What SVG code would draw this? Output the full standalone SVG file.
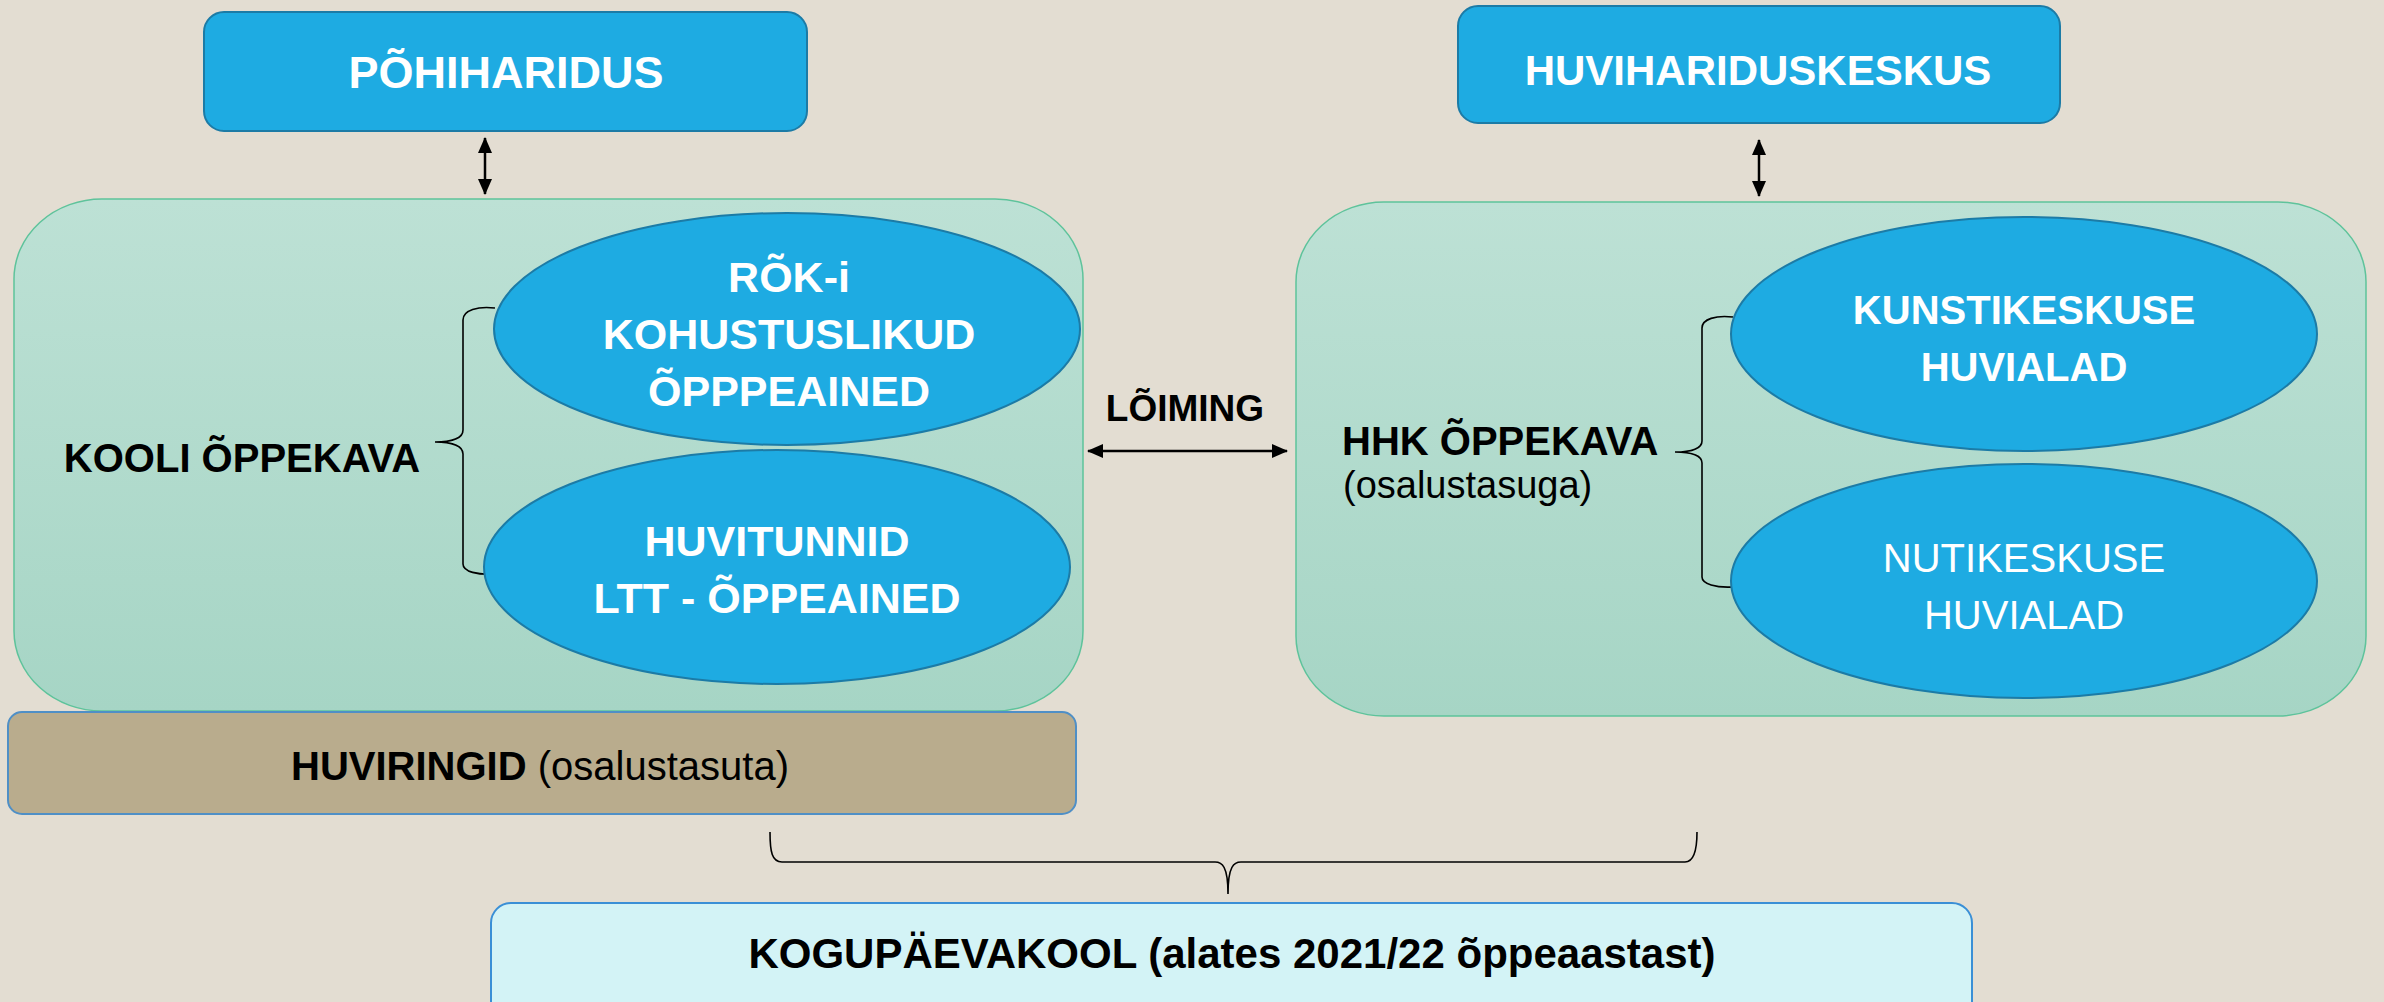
<svg xmlns="http://www.w3.org/2000/svg" width="2384" height="1002" viewBox="0 0 2384 1002">
<defs>
<linearGradient id="gGreen" x1="0" y1="0" x2="0" y2="1">
<stop offset="0" stop-color="#BDE1D5"/>
<stop offset="1" stop-color="#A6D5C5"/>
</linearGradient>
<marker id="ah" viewBox="0 0 16 14" refX="15" refY="7" markerWidth="16" markerHeight="14" markerUnits="userSpaceOnUse" orient="auto-start-reverse">
<path d="M0,0 L16,7 L0,14 Z" fill="#000"/>
</marker>
<style>
.blue{fill:#1EABE2;stroke:#1C7BA6;stroke-width:2}
.green{fill:url(#gGreen);stroke:#5EC39B;stroke-width:1.5}
.t{font-family:"Liberation Sans",Arial,sans-serif;text-anchor:middle}
.w{fill:#fff}
.k{fill:#000}
.b{font-weight:bold}
.conn{stroke:#000;stroke-width:2.5;fill:none}
.brace{stroke:#000;stroke-width:1.6;fill:none}
</style>
</defs>
<rect width="2384" height="1002" fill="#E3DDD2"/>

<g id="connectors">
<line class="conn" x1="485" y1="138" x2="485" y2="194" marker-start="url(#ah)" marker-end="url(#ah)"/>
<line class="conn" x1="1759" y1="140" x2="1759" y2="196" marker-start="url(#ah)" marker-end="url(#ah)"/>
<line class="conn" x1="1088" y1="451" x2="1287" y2="451" marker-start="url(#ah)" marker-end="url(#ah)"/>
</g>

<g id="pohiharidus">
<rect class="blue" x="204" y="12" width="603" height="119" rx="20"/>
<text class="t w b" x="506" y="88" font-size="45">PÕHIHARIDUS</text>
</g>

<g id="huviharidusekeskus">
<rect class="blue" x="1458" y="6" width="602" height="117" rx="20"/>
<text class="t w b" x="1758" y="85" font-size="42">HUVIHARIDUSKESKUS</text>
</g>

<g id="kooli-oppekava">
<rect class="green" x="14" y="199" width="1069" height="512" rx="88" ry="80"/>
<text class="t k b" x="242" y="472" font-size="40">KOOLI ÕPPEKAVA</text>
<path class="brace" d="M495,308 C478,306 463,310 463,320 L463,430 C463,438 452,442 435,442 C452,442 463,446 463,454 L463,564 C463,572 478,575 495,574"/>
</g>

<g id="rok">
<ellipse class="blue" cx="787" cy="329" rx="293" ry="116"/>
<text class="t w b" font-size="43"><tspan x="789" y="292">RÕK-i</tspan><tspan x="789" y="349">KOHUSTUSLIKUD</tspan><tspan x="789" y="406">ÕPPPEAINED</tspan></text>
</g>

<g id="huvitunnid">
<ellipse class="blue" cx="777" cy="567" rx="293" ry="117"/>
<text class="t w b" font-size="43"><tspan x="777" y="556">HUVITUNNID</tspan><tspan x="777" y="613">LTT - ÕPPEAINED</tspan></text>
</g>

<g id="huviringid">
<rect x="8" y="712" width="1068" height="102" rx="14" fill="#B9AC8D" stroke="#4F8FC6" stroke-width="2"/>
<text class="t k" x="540" y="780" font-size="40"><tspan class="b">HUVIRINGID</tspan> (osalustasuta)</text>
</g>

<g id="hhk-oppekava">
<rect class="green" x="1296" y="202" width="1070" height="514" rx="88" ry="80"/>
<text class="k" x="1342" y="455" font-size="40" font-family="Liberation Sans, Arial, sans-serif" font-weight="bold">HHK ÕPPEKAVA</text>
<text class="k" x="1343" y="498" font-size="38" font-family="Liberation Sans, Arial, sans-serif">(osalustasuga)</text>
<path class="brace" d="M1733,317 C1716,315 1702,319 1702,328 L1702,441 C1702,448 1692,452 1675,452 C1692,452 1702,456 1702,463 L1702,577 C1702,584 1716,588 1733,587"/>
</g>

<g id="kunstikeskuse">
<ellipse class="blue" cx="2024" cy="334" rx="293" ry="117"/>
<text class="t w b" font-size="40"><tspan x="2024" y="324">KUNSTIKESKUSE</tspan><tspan x="2024" y="381">HUVIALAD</tspan></text>
</g>

<g id="nutikeskuse">
<ellipse class="blue" cx="2024" cy="581" rx="293" ry="117"/>
<text class="t w" font-size="40"><tspan x="2024" y="572">NUTIKESKUSE</tspan><tspan x="2024" y="629">HUVIALAD</tspan></text>
</g>

<g id="loiming">
<text class="t k b" x="1185" y="421" font-size="37">LÕIMING</text>
</g>

<g id="bottom-brace">
<path class="brace" stroke-width="2.4" d="M770,832 C770,852 772,862 782,862 L1215,862 C1222,862 1228,866 1228,894 C1228,866 1234,862 1241,862 L1685,862 C1693,862 1697,852 1697,832"/>
</g>

<g id="kogupaevakool">
<rect x="491" y="903" width="1481" height="130" rx="20" fill="#D3F3F6" stroke="#3A8FD6" stroke-width="2"/>
<text class="t k b" x="1232" y="968" font-size="42">KOGUPÄEVAKOOL (alates 2021/22 õppeaastast)</text>
</g>
</svg>
